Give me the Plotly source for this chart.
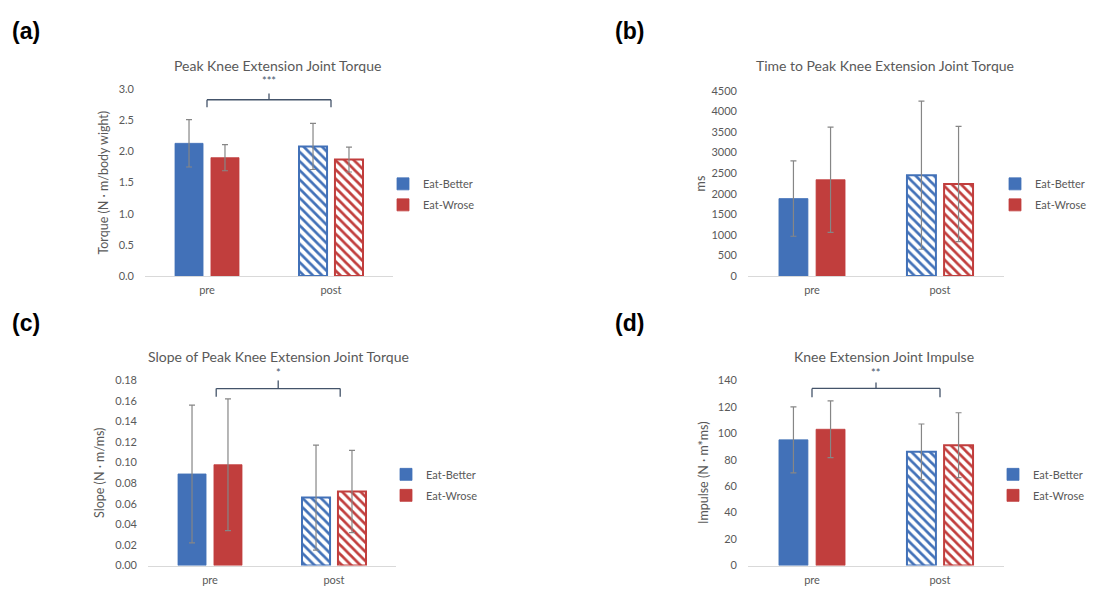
import plotly.graph_objects as go

# ---------------- data ----------------
categories = ["pre", "post"]
series_names = ["Eat-Better", "Eat-Wrose"]

torque_better = [2.13, 2.08]
torque_better_sd = [0.38, 0.37]
torque_worse = [1.90, 1.87]
torque_worse_sd = [0.21, 0.20]

time_better = [1880, 2450]
time_better_sd = [915, 1800]
time_worse = [2340, 2235]
time_worse_sd = [1280, 1400]

slope_better = [0.089, 0.066]
slope_better_sd = [0.067, 0.051]
slope_worse = [0.098, 0.072]
slope_worse_sd = [0.064, 0.040]

impulse_better = [95, 86]
impulse_better_sd = [25, 21]
impulse_worse = [103, 91]
impulse_worse_sd = [21.5, 24.5]

panel_titles = [
    "Peak Knee Extension Joint Torque",
    "Time to Peak Knee Extension Joint Torque",
    "Slope of Peak Knee Extension Joint Torque",
    "Knee Extension Joint Impulse",
]
panel_labels = ["(a)", "(b)", "(c)", "(d)"]
y_titles = ["Torque (N · m/body wight)", "ms", "Slope (N · m/ms)", "Impulse (N · m*ms)"]
significance = ["***", None, "*", "**"]

# ---------------- styling / layout ----------------
W, H = 1113, 594
BLUE = "#4271B8"
RED = "#C13E3D"
GREY = "#595959"
ERR = "#868686"
BRACKET = "#44546A"
FONT = "Lato, Open Sans, sans-serif"

def px_x(p):
    return p / W

def px_y(p):
    return 1 - p / H

panels = [
    dict(data=(torque_better, torque_better_sd, torque_worse, torque_worse_sd),
         xd=(145, 393), yd=(275, 84), rng=(0, 3), dtick=0.5, fmt=".1f",
         title_xy=(277, 60), ytitle_x=104, label_xy=(10, 25), legend_xy=(383, 166),
         bracket=dict(x0=0, x1=1, top=2.83, leg=2.71, tick=2.93, text=3.0)),
    dict(data=(time_better, time_better_sd, time_worse, time_worse_sd),
         xd=(748, 1004), yd=(275, 85.7), rng=(0, 4500), dtick=500, fmt="d",
         title_xy=(885, 60), ytitle_x=700, label_xy=(613, 25), legend_xy=(995, 166),
         bracket=None),
    dict(data=(slope_better, slope_better_sd, slope_worse, slope_worse_sd),
         xd=(148, 396), yd=(571, 381.7), rng=(0, 0.18), dtick=0.02, fmt=".2f",
         title_xy=(278, 357), ytitle_x=100, label_xy=(10, 323), legend_xy=(386, 463),
         bracket=dict(x0=0.05, x1=1.05, top=0.172, leg=0.164, tick=0.18, text=0.1795)),
    dict(data=(impulse_better, impulse_better_sd, impulse_worse, impulse_worse_sd),
         xd=(748, 1004), yd=(571, 381.7), rng=(0, 140), dtick=20, fmt="d",
         title_xy=(884, 357), ytitle_x=704, label_xy=(613, 323), legend_xy=(993, 463),
         bracket=dict(x0=0, x1=1, top=133.9, leg=127.2, tick=138.3, text=139.5)),
]

fig = go.Figure()
annotations = []
shapes = []

for i, p in enumerate(panels):
    n = "" if i == 0 else str(i + 1)
    xa, ya = "x" + n, "y" + n
    lg = "legend" + n
    better, better_sd, worse, worse_sd = p["data"]
    for name, vals, sds, col in [(series_names[0], better, better_sd, BLUE),
                                 (series_names[1], worse, worse_sd, RED)]:
        fig.add_trace(go.Bar(
            x=categories, y=vals, name=name, xaxis=xa, yaxis=ya, legend=lg,
            legendgroup=f"{name}{i}",
            marker=dict(
                color=col,
                line=dict(color=[col, col], width=[0.8, 2]),
                pattern=dict(shape=["", "\\"], fgcolor=col, bgcolor=[col, "white"],
                             size=6.5, solidity=0.42, fillmode="replace"),
            ),
            error_y=dict(type="data", array=sds, visible=True, color=ERR,
                         thickness=1.2, width=3),
        ))

    axis_common = dict(showgrid=False, zeroline=False)
    fig.layout["xaxis" + n] = dict(
        domain=[px_x(p["xd"][0]), px_x(p["xd"][1])], anchor=ya,
        showline=True, linecolor="#D9D9D9", linewidth=1, ticks="",
        tickfont=dict(family=FONT, size=11, color=GREY), ticklabelstandoff=4,
        fixedrange=True, **axis_common)
    fig.layout["yaxis" + n] = dict(
        domain=[px_y(p["yd"][0]), px_y(p["yd"][1])], anchor=xa,
        range=list(p["rng"]), dtick=p["dtick"], tick0=0, tickformat=p["fmt"],
        showline=False, ticks="", ticklabelstandoff=10,
        tickfont=dict(family=FONT, size=11, color=GREY), fixedrange=True, **axis_common)

    fig.layout[lg] = dict(
        x=px_x(p["legend_xy"][0]), y=px_y(p["legend_xy"][1]),
        xanchor="left", yanchor="top", bgcolor="rgba(0,0,0,0)",
        font=dict(family=FONT, size=11, color=GREY),
        traceorder="grouped", tracegroupgap=2, itemclick=False, itemdoubleclick=False)

    # subplot title
    annotations.append(dict(
        text=panel_titles[i], x=px_x(p["title_xy"][0]), y=px_y(p["title_xy"][1]),
        xref="paper", yref="paper", xanchor="center", yanchor="middle", showarrow=False,
        font=dict(family=FONT, size=14, color=GREY)))
    # y-axis title
    yc = (p["yd"][0] + p["yd"][1]) / 2
    annotations.append(dict(
        text=y_titles[i], x=px_x(p["ytitle_x"]), y=px_y(yc), textangle=-90,
        xref="paper", yref="paper", xanchor="center", yanchor="middle", showarrow=False,
        font=dict(family=FONT, size=12.5, color=GREY)))
    # panel label
    annotations.append(dict(
        text="<b>" + panel_labels[i] + "</b>", x=px_x(p["label_xy"][0]), y=px_y(p["label_xy"][1]),
        xref="paper", yref="paper", xanchor="left", yanchor="middle", showarrow=False,
        font=dict(family="Liberation Sans, Arial, sans-serif", size=23, color="black")))

    b = p["bracket"]
    if b is not None:
        ln = dict(color=BRACKET, width=1.3)
        xm = (b["x0"] + b["x1"]) / 2
        for (x0, y0, x1, y1) in [(b["x0"], b["leg"], b["x0"], b["top"]),
                                 (b["x0"], b["top"], b["x1"], b["top"]),
                                 (b["x1"], b["top"], b["x1"], b["leg"]),
                                 (xm, b["top"], xm, b["tick"])]:
            shapes.append(dict(type="line", xref=xa, yref=ya, x0=x0, y0=y0, x1=x1, y1=y1, line=ln))
        annotations.append(dict(
            text=significance[i], x=xm, y=b["text"], xref=xa, yref=ya,
            xanchor="center", yanchor="bottom", showarrow=False,
            font=dict(family=FONT, size=11, color=BRACKET)))

fig.update_layout(
    width=W, height=H, margin=dict(l=0, r=0, t=0, b=0),
    paper_bgcolor="white", plot_bgcolor="white",
    barmode="group", bargap=0.42, bargroupgap=0.22,
    annotations=annotations, shapes=shapes,
    font=dict(family=FONT, color=GREY),
    hovermode=False,
)

fig.write_html(
    "out.html",
    config={"displayModeBar": False, "staticPlot": False},
    post_script="document.body.style.margin='0';document.body.style.padding='0';"
                "document.body.style.overflow='hidden';",
)
